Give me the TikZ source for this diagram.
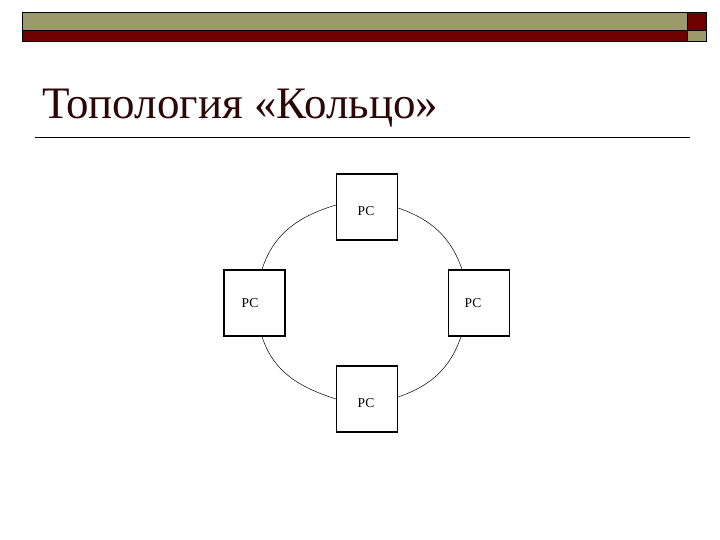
\documentclass[tikz,border=0pt]{standalone}
\usepackage{fontspec}
\setmainfont{Liberation Serif}
\definecolor{olivebar}{HTML}{9C9A6A}
\definecolor{redbar}{HTML}{6E0000}
\definecolor{titlecol}{HTML}{2E0606}
\begin{document}
\begin{tikzpicture}[x=1pt,y=-1pt,
  pcbox/.style={draw=black,line width=1.3pt,minimum width=61pt,minimum height=66pt,inner sep=0pt,fill=white},
  pclabel/.style={font=\fontsize{13.5}{15}\selectfont},
  ring/.style={draw=black,line width=0.5pt}]
\useasboundingbox (0,0) rectangle (720,540);
\fill[white] (0,0) rectangle (720,540);
% top bar
\filldraw[fill=olivebar,draw=black,line width=0.8pt] (22.5,12.5) rectangle (687,30.5);
\filldraw[fill=redbar,draw=black,line width=0.8pt] (22.5,30.5) rectangle (687,41.5);
\filldraw[fill=redbar,draw=black,line width=0.8pt] (687,12.5) rectangle (706.5,30.5);
\filldraw[fill=olivebar,draw=black,line width=0.8pt] (687,30.5) rectangle (706.5,41.5);
% title
\node[anchor=base west,inner sep=0pt,text=titlecol,font=\fontsize{45}{50}\selectfont] (title) at (42,118.3) {Топология «Кольцо»};
\draw[black,line width=0.8pt] (35,137) -- (690,137);
% boxes
\node[pcbox,label={[pclabel,xshift=-1pt,yshift=-4.5pt]center:PC}] (top) at (367,207) {};
\node[pcbox,label={[pclabel,xshift=-4.5pt]center:PC}] (left) at (254.5,303) {};
\node[pcbox,label={[pclabel,xshift=-6pt]center:PC}] (right) at (479,303) {};
\node[pcbox,label={[pclabel,xshift=-1pt,yshift=-4.5pt]center:PC}] (bottom) at (367,399) {};
% ring
\draw[ring] ([yshift=2pt]top.west) to[out=197,in=72] ([xshift=7.5pt]left.north);
\draw[ring] ([yshift=-1pt]top.east) to[out=341,in=109] ([xshift=-17pt]right.north);
\draw[ring] ([xshift=7.5pt]left.south) to[out=288,in=162] (bottom.west);
\draw[ring] ([xshift=-18pt]right.south) to[out=251,in=19] ([yshift=2pt]bottom.east);
\end{tikzpicture}
\end{document}
